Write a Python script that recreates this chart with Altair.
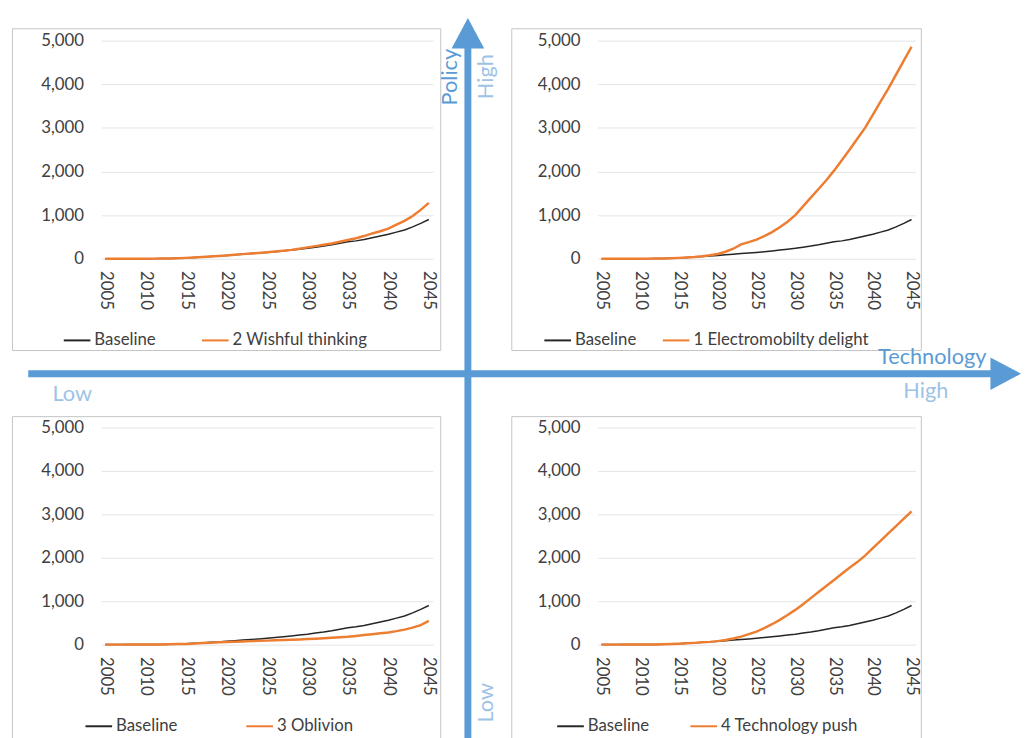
import altair as alt
import pandas as pd

FONT = "Lato"
BLUE = "#5B9BD5"
LIGHT = "#9DC3E6"
ORANGE = "#ED7D31"
BLACK = "#262626"
TXT = "#404040"

years = list(range(2005, 2046))
year_ticks = list(range(2005, 2046, 5))
value_ticks = [0, 1000, 2000, 3000, 4000, 5000]

baseline = [0, 0, 0, 1, 1, 2, 3, 5, 8, 13,
            20, 30, 40, 52, 63, 75, 90, 105, 118, 131,
            145, 162, 180, 200, 220, 240, 265, 290, 320, 355,
            390, 410, 440, 480, 520, 560, 610, 660, 730, 810, 900]
wishful = [0, 0, 0, 1, 1, 2, 3, 5, 8, 13,
           20, 30, 40, 52, 63, 76, 90, 106, 120, 133,
           147, 164, 182, 203, 230, 260, 290, 320, 350, 390,
           430, 470, 520, 580, 630, 690, 780, 870, 980, 1120, 1280]
electro = [0, 0, 0, 1, 1, 2, 3, 5, 8, 13,
           20, 30, 42, 58, 80, 110, 160, 230, 330, 380,
           440, 520, 610, 720, 850, 1000, 1200, 1400, 1600, 1800,
           2020, 2260, 2500, 2750, 3000, 3300, 3600, 3900, 4220, 4540, 4860]
oblivion = [0, 0, 0, 1, 1, 2, 3, 5, 8, 12,
            15, 25, 35, 45, 52, 60, 67, 74, 80, 86,
            92, 98, 105, 112, 120, 128, 137, 147, 158, 170,
            182, 200, 220, 240, 260, 280, 310, 345, 390, 450, 545]
techpush = [0, 0, 0, 1, 1, 2, 3, 5, 8, 13,
            20, 30, 40, 52, 63, 80, 105, 140, 185, 240,
            300, 380, 470, 570, 680, 800, 930, 1070, 1210, 1350,
            1490, 1630, 1770, 1900, 2050, 2220, 2390, 2560, 2730, 2900, 3070]

names = ["2 Wishful thinking", "1 Electromobilty delight", "3 Oblivion", "4 Technology push"]


def panel(name, values, w, h, box, lx, ly, colpad):
    df = pd.DataFrame({
        "year": years + years,
        "value": baseline + values,
        "series": ["Baseline"] * len(years) + [name] * len(years),
    })
    color = alt.Color(
        "series:N",
        scale=alt.Scale(domain=["Baseline", name], range=[BLACK, ORANGE]),
        legend=alt.Legend(
            title=None, orient="none", legendX=lx, legendY=ly,
            direction="horizontal", symbolType="stroke", symbolSize=729,
            symbolStrokeWidth=2, labelFont=FONT, labelFontSize=17,
            labelColor=TXT, columnPadding=colpad, labelOffset=3,
            padding=0, labelLimit=400,
        ),
    )
    x = alt.X("year:Q",
              scale=alt.Scale(domain=[2004.5, 2045.5], nice=False, zero=False),
              axis=alt.Axis(values=year_ticks, format="d", labelAngle=90,
                            title=None, grid=False, domain=False, ticks=False,
                            tickSize=0, labelPadding=12, labelFlush=False,
                            labelOverlap=False))
    y = alt.Y("value:Q",
              scale=alt.Scale(domain=[0, 5000], nice=False),
              axis=alt.Axis(values=value_ticks, format=",.0f", title=None,
                            grid=True, gridColor="#e4e4e4", gridWidth=1,
                            domain=False, ticks=False, tickSize=0,
                            labelPadding=18, labelFlush=False))
    base = alt.Chart(df)
    lb = base.transform_filter(alt.datum.series == "Baseline").mark_line(
        strokeWidth=1.5).encode(x=x, y=y, color=color)
    ls = base.transform_filter(alt.datum.series == name).mark_line(
        strokeWidth=2.5).encode(x=x, y=y, color=color)
    frame = alt.Chart(pd.DataFrame({"k": [0]})).mark_rect(
        fillOpacity=0, stroke="#c4c4c4", strokeWidth=1).encode(
        x=alt.value(box[0]), x2=alt.value(box[1]),
        y=alt.value(box[2]), y2=alt.value(box[3]))
    return [frame, lb, ls], w, h


one = pd.DataFrame({"k": [0]})


def label(text, x, y, color, angle=0, baseline="middle"):
    kw = dict(text=text, font=FONT, fontSize=22, color=color,
              align="center", baseline=baseline)
    if angle:
        kw["angle"] = angle
    return alt.Chart(one).mark_text(**kw).encode(x=alt.value(x), y=alt.value(y))


# decorations drawn in the bottom-right view (origin at its plot area)
vshaft = alt.Chart(one).mark_rule(color=BLUE, strokeWidth=7).encode(
    x=alt.value(-131.5), y=alt.value(-385), y2=alt.value(340))
hshaft = alt.Chart(one).mark_rule(color=BLUE, strokeWidth=7).encode(
    x=alt.value(-577), x2=alt.value(399), y=alt.value(-54.5))
vhead = alt.Chart(one).mark_point(
    shape="M-1,0.94L0,-0.94L1,0.94Z", filled=True, size=1089,
    color=BLUE, opacity=1, strokeWidth=0).encode(
    x=alt.value(-131.5), y=alt.value(-399.5))
hhead = alt.Chart(one).mark_point(
    shape="M-0.94,-1L0.94,0L-0.94,1Z", filled=True, size=1089,
    color=BLUE, opacity=1, strokeWidth=0).encode(
    x=alt.value(413.5), y=alt.value(-54.5))
texts = [
    label("Policy", -150, -355, BLUE, angle=270),
    label("High", -113.5, -355.5, LIGHT, angle=270),
    label("Technology", 339, -64, BLUE, baseline="alphabetic"),
    label("High", 332.5, -30, LIGHT, baseline="alphabetic"),
    label("Low", -532.5, -27, LIGHT, baseline="alphabetic"),
    label("Low", -113.5, 279, LIGHT, angle=270),
]

l1, w1, h1 = panel(names[0], wishful, 336, 221, (-90, 344, -12, 314), -39, 289, 42)
l2, w2, h2 = panel(names[1], electro, 322, 221, (-87, 328, -12, 314), -55, 289, 22)
l3, w3, h3 = panel(names[2], oblivion, 336, 220, (-90, 344, -11, 340), -17, 288, 65)
l4, w4, h4 = panel(names[3], techpush, 322, 220, (-87, 328, -11, 340), -42, 288, 37)

tl = alt.layer(*l1).properties(width=w1, height=h1)
tr = alt.layer(*l2).properties(width=w2, height=h2)
bl = alt.layer(*l3).properties(width=w3, height=h3)
br = alt.layer(*l4, vshaft, hshaft, vhead, hhead, *texts).properties(width=w4, height=h4)

chart = alt.concat(
    tl, tr, bl, br, columns=2,
    spacing={"row": 171, "column": 167}, bounds="flush",
).resolve_scale(color="independent").properties(
    padding={"left": 3.5, "top": 4, "right": 0, "bottom": 0},
    background="white",
).configure_view(stroke=None).configure_axis(
    labelFont=FONT, labelFontSize=17, labelColor=TXT,
)

chart.save("out.html", embed_options={"renderer": "svg", "actions": False})
